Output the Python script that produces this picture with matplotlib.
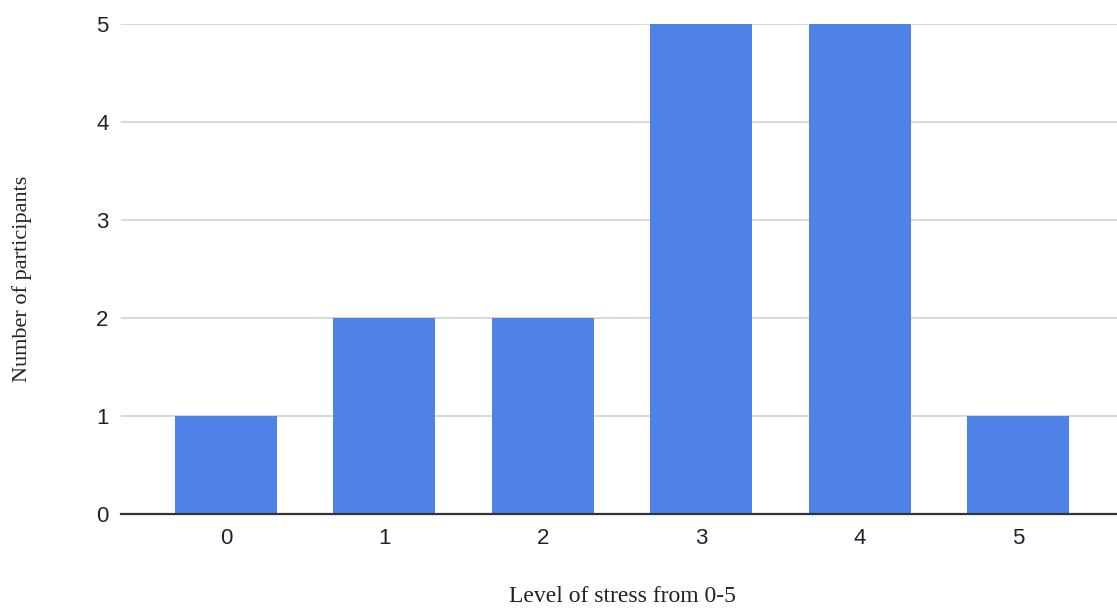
import matplotlib.pyplot as plt

# stress level survey counts
levels = [0, 1, 2, 3, 4, 5]
participants = [1, 2, 2, 5, 5, 1]
y_ticks = [0, 1, 2, 3, 4, 5]

BAR_COLOR = "#4F82E9"
GRID_COLOR = "#D3D3D3"

W, H = 1117, 608
fig = plt.figure(figsize=(W / 100, H / 100), dpi=100)
# plot area runs a little past the right edge of the canvas
left, right, top, bottom = 121, 1123, 24, 514
ax = fig.add_axes([left / W, 1 - bottom / H, (right - left) / W, (bottom - top) / H])

ax.bar(levels, participants, width=0.645, color=BAR_COLOR, zorder=3)

ax.set_xlim(-0.663, 5.663)
ax.set_ylim(0, 5)
ax.set_xticks(levels)
ax.set_yticks(y_ticks)

for y in y_ticks[1:]:
    ax.axhline(y, color=GRID_COLOR, linewidth=1.2, zorder=1)

for side in ("left", "right", "top"):
    ax.spines[side].set_visible(False)
ax.spines["bottom"].set_color("#333333")
ax.spines["bottom"].set_linewidth(1.6)
ax.spines["bottom"].set_zorder(4)

ax.tick_params(axis="both", length=0, labelsize=16, colors="#222222")
ax.tick_params(axis="x", pad=10)
ax.tick_params(axis="y", pad=9)
for lab in ax.get_xticklabels() + ax.get_yticklabels():
    lab.set_fontfamily("Liberation Sans")

# axis titles, centred at fixed pixel positions
ax.set_xlabel("Level of stress from 0-5", family="Liberation Serif",
              fontsize=17, color="#222222", va="center")
ax.xaxis.set_label_coords(0.5, (bottom - 596) / (bottom - top))
ax.set_ylabel("Number of participants", family="Liberation Serif",
              fontsize=16, color="#222222", va="center", rotation_mode="anchor")
ax.yaxis.set_label_coords((22 - left) / (right - left), (bottom - 279) / (bottom - top))

fig.savefig("out.png", dpi=100)
